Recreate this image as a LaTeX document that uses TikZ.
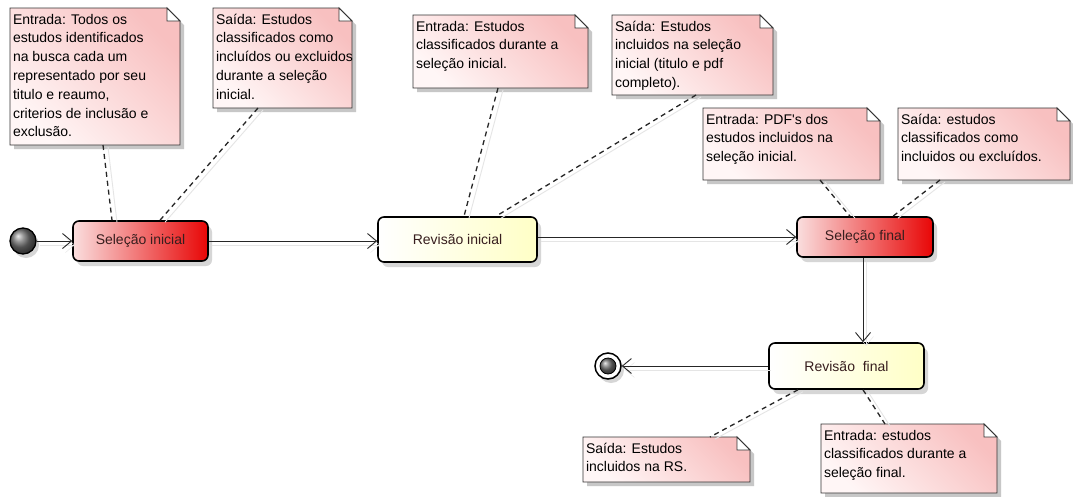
\documentclass[tikz,border=0pt]{standalone}
\usepackage{fontspec}
\setmainfont{Liberation Sans}
\usetikzlibrary{arrows.meta,shadows}

\definecolor{notepink}{RGB}{248,192,192}
\definecolor{notelight}{RGB}{255,246,246}
\definecolor{selleft}{RGB}{250,222,222}
\definecolor{selright}{RGB}{232,6,6}
\definecolor{revright}{RGB}{255,255,198}
\definecolor{statetext}{RGB}{55,30,30}

\tikzset{
  noteshape/.style={draw=black!80, line width=0.9pt,
    top color=notepink, bottom color=notelight, shading angle=-45,
    drop shadow={shadow xshift=4pt, shadow yshift=-4pt, fill=black!22, opacity=1}},
  notefold/.style={draw=black!80, line width=0.9pt, fill=white, line join=miter},
  notetext/.style={anchor=north west, inner xsep=3pt, inner ysep=3pt, outer sep=0pt,
    font=\fontsize{14}{18.8}\selectfont, text=black},
  statebox/.style={rectangle, rounded corners=6pt, draw=black, line width=1.6pt,
    font=\fontsize{14}{17}\selectfont, text=statetext, inner sep=0pt,
    drop shadow={shadow xshift=4pt, shadow yshift=-5pt, fill=black!16, opacity=1}},
  selstate/.style={statebox, left color=selleft, right color=selright},
  revstate/.style={statebox, left color=white, right color=revright},
  flow/.style={draw=black!85, line width=0.9pt,
    -{Straight Barb[length=9pt,width=15pt,line width=0.9pt]},
    preaction={draw=black!10, transform canvas={xshift=3pt, yshift=-4pt}}},
  notelink/.style={draw=black!85, line width=1.3pt, dash pattern=on 5pt off 4pt,
    preaction={draw=black!10, solid, line width=0.9pt, transform canvas={xshift=5pt, yshift=-2pt}}},
}

% UML note: name, left, top, width, height, lines of text
\newcommand\umlnote[6]{%
  \path[noteshape] (#2,#3) -- (#2+#4-13,#3) -- (#2+#4,#3+13) -- (#2+#4,#3+#5) -- (#2,#3+#5) -- cycle;
  \draw[notefold] (#2+#4-13,#3) -- (#2+#4-13,#3+13) -- (#2+#4,#3+13) -- cycle;
  \node[notetext] (#1) at (#2,#3)
    {\begin{minipage}[t][\dimexpr#5pt-6pt\relax][t]{\dimexpr#4pt-6pt\relax}%
       \makebox[\dimexpr#4pt-6pt\relax][l]{\begin{tabular}[t]{@{}l@{}}#6\end{tabular}}%
     \end{minipage}};%
}

\begin{document}
\begin{tikzpicture}[x=1pt,y=-1pt]
\fill[white] (0,0) rectangle (1073,496);
\useasboundingbox (0,0) rectangle (1073,496);

% notes
\umlnote{n1}{10}{8}{170}{137}{Entrada: Todos os\\estudos identificados\\na busca cada um\\representado por seu\\titulo e reaumo,\\criterios de inclusão e\\exclusão.}
\umlnote{n2}{213}{8}{139}{100}{Saída: Estudos\\classificados como\\incluídos ou excluidos\\durante a seleção\\inicial.}
\umlnote{n3}{413}{15}{175}{73}{Entrada: Estudos\\classificados durante a\\seleção inicial.}
\umlnote{n4}{612}{15}{161}{80}{Saída: Estudos\\incluidos na seleção\\inicial (titulo e pdf\\completo).}
\umlnote{n5}{703}{108}{177}{72}{Entrada: PDF\textquotesingle s dos\\estudos incluidos na\\seleção inicial.}
\umlnote{n6}{898}{108}{172}{72}{Saída: estudos\\classificados como\\incluidos ou excluídos.}
\umlnote{n7}{583}{437}{167}{45}{Saída: Estudos\\incluidos na RS.}
\umlnote{n8}{821}{424}{176}{69}{Entrada: estudos\\classificados durante a\\seleção final.}

% initial and final pseudo-states
\node[circle, draw=black, line width=1.3pt, minimum size=26pt, inner sep=0pt,
      shading=ball, ball color=black!55,
      drop shadow={shadow xshift=3pt, shadow yshift=-4pt, fill=black!16, opacity=1}] (init) at (23,241) {};
\node[circle, draw=black, line width=1.5pt, fill=white, minimum size=26pt, inner sep=0pt,
      drop shadow={shadow xshift=3pt, shadow yshift=-4pt, fill=black!16, opacity=1}] (fin) at (608,366) {};
\node[circle, draw=black, line width=0.8pt, minimum size=16pt, inner sep=0pt,
      shading=ball, ball color=black!55] (finc) at (fin) {};

% states
\node[selstate, minimum width=135pt, minimum height=40pt] (s1) at (140.5,241) {Seleção inicial};
\node[revstate, minimum width=159pt, minimum height=45pt] (s2) at (457.5,239.5) {Revisão inicial};
\node[selstate, minimum width=136pt, minimum height=40pt] (s3) at (865,237) {Seleção final};
\node[revstate, minimum width=155pt, minimum height=46pt] (s4) at (846.5,366) {Revisão~ final};

% transitions
\draw[flow] (init) -- (s1.west |- init);
\draw[flow] (s1.east) -- (s2.west |- s1.east);
\draw[flow] (s2.east |- s3.west) -- (s3.west);
\draw[flow] ([xshift=-2pt]s3.south) -- ([xshift=-2pt]s3.south |- s4.north);
\draw[flow] (s4.west) -- (fin);

% note attachments
\draw[notelink] ([xshift=8pt]n1.south) -- ([xshift=-28.5pt]s1.north);
\draw[notelink] ([xshift=-24.5pt]n2.south) -- ([xshift=19.5pt]s1.north);
\draw[notelink] ([xshift=-2.5pt]n3.south) -- ([xshift=6.5pt]s2.north);
\draw[notelink] ([xshift=3.5pt]n4.south) -- ([xshift=38.5pt]s2.north);
\draw[notelink] ([xshift=28.5pt]n5.south) -- ([xshift=-15pt]s3.north);
\draw[notelink] ([xshift=-44pt]n6.south) -- ([xshift=28pt]s3.north);
\draw[notelink] ([xshift=-48.5pt]s4.south) -- ([xshift=43.5pt]n7.north);
\draw[notelink] ([xshift=16.5pt]s4.south) -- ([xshift=-24pt]n8.north);
\end{tikzpicture}
\end{document}
